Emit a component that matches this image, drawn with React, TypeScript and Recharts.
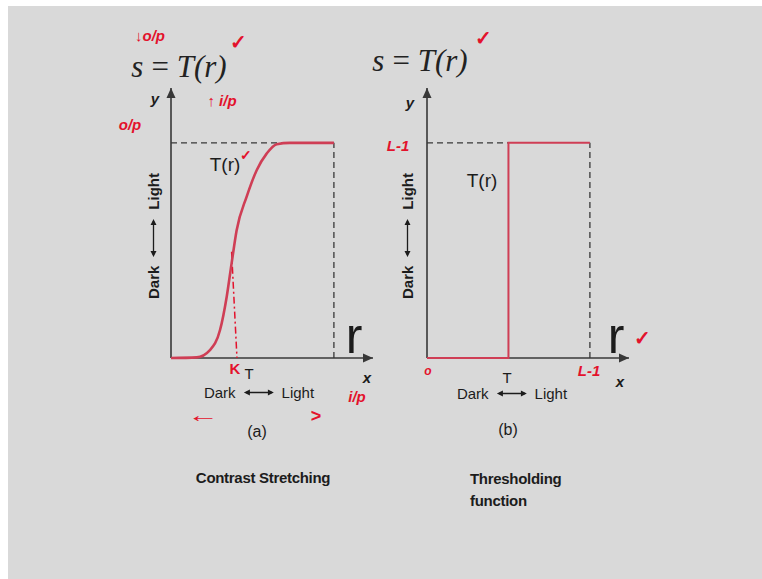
import type { CSSProperties, ReactNode } from 'react'
import { Line, LineChart, ReferenceDot, ReferenceLine, XAxis, YAxis } from 'recharts'

// r and s are normalised so that L-1 = 1; axes run a bit past it to the arrow tips
const X_MAX = 1.24
const Y_MAX = 1.255

// (a) contrast stretching curve T(r)
const stretchR = [0, 0.158, 0.239, 0.301, 0.342, 0.372, 0.403, 0.464, 0.526, 0.587, 0.649, 0.73, 1]
const stretchS = [0, 0.003, 0.037, 0.13, 0.285, 0.44, 0.594, 0.749, 0.873, 0.95, 0.994, 1, 1]

// (b) thresholding at r = T
const threshR = [0, 0.5, 0.5, 1]
const threshS = [0, 0, 1, 1]

// hand-drawn drop line from the curve to k on the r axis
const kLine = [
  { x: 0.372, y: 0.494 },
  { x: 0.405, y: 0 },
]

const stretchData = stretchR.map((r, i) => ({ r, s: stretchS[i] }))
const threshData = threshR.map((r, i) => ({ r, s: threshS[i] }))

const INK = '#1c1c1c'
const AXIS = '#383838'
const CURVE = '#cf3e55'
const PEN = '#e3122c'
const SANS = '"Liberation Sans", Arial, sans-serif'
const SERIF = '"Liberation Serif", "Times New Roman", serif'

const arrowRight = (p: any) => (
  <path d={`M${p.cx},${p.cy} L${p.cx - 10},${p.cy - 4.5} L${p.cx - 10},${p.cy + 4.5} Z`} fill={AXIS} />
)
const arrowUp = (p: any) => (
  <path d={`M${p.cx},${p.cy} L${p.cx - 4.5},${p.cy + 10} L${p.cx + 4.5},${p.cy + 10} Z`} fill={AXIS} />
)

function Txt({ x, y, children, style }: { x: number; y: number; children: ReactNode; style?: CSSProperties }) {
  return (
    <div
      style={{
        position: 'absolute',
        left: x,
        top: y,
        transform: 'translate(-50%, -50%)',
        whiteSpace: 'nowrap',
        fontFamily: SANS,
        color: INK,
        lineHeight: 1,
        ...style,
      }}
    >
      {children}
    </div>
  )
}

function DarkLight({ x, y, size, arrow, gap, bold, vertical }: {
  x: number; y: number; size: number; arrow: number; gap: number; bold?: boolean; vertical?: boolean
}) {
  return (
    <div
      style={{
        position: 'absolute',
        left: x,
        top: y,
        transform: `translate(-50%, -50%)${vertical ? ' rotate(-90deg)' : ''}`,
        display: 'flex',
        alignItems: 'center',
        gap,
        whiteSpace: 'nowrap',
        fontFamily: SANS,
        fontSize: size,
        fontWeight: bold ? 700 : 400,
        color: INK,
        lineHeight: 1,
      }}
    >
      <span>Dark</span>
      <svg width={arrow} height={8}>
        <line x1={2} y1={4} x2={arrow - 2} y2={4} stroke={INK} strokeWidth={1.3} />
        <path d={`M0,4 L6,1 L6,7 Z M${arrow},4 L${arrow - 6},1 L${arrow - 6},7 Z`} fill={INK} />
      </svg>
      <span>Light</span>
    </div>
  )
}

const chartMargin = { top: 8, right: 17, bottom: 22, left: 41 }

// x/y axes with arrow heads, shared by both panels
function axisMarks() {
  return [
    <XAxis key="xa" type="number" dataKey="r" domain={[0, X_MAX]} hide />,
    <YAxis key="ya" type="number" domain={[0, Y_MAX]} hide />,
    <ReferenceLine key="xl" segment={[{ x: 0, y: 0 }, { x: X_MAX, y: 0 }]} stroke={AXIS} strokeWidth={1.6} />,
    <ReferenceLine key="yl" segment={[{ x: 0, y: 0 }, { x: 0, y: Y_MAX }]} stroke={AXIS} strokeWidth={1.6} />,
    <ReferenceDot key="xh" x={X_MAX} y={0} r={0} shape={arrowRight} />,
    <ReferenceDot key="yh" x={0} y={Y_MAX} r={0} shape={arrowUp} />,
  ]
}

function StretchPanel() {
  return (
    <div style={{ position: 'absolute', left: 130, top: 80 }}>
      <LineChart width={260} height={300} data={stretchData} margin={chartMargin}>
        {axisMarks()}
        <ReferenceLine segment={[{ x: 0, y: 1 }, { x: 1, y: 1 }]} stroke={AXIS} strokeDasharray="6 4" strokeWidth={1.3} />
        <ReferenceLine segment={[{ x: 1, y: 0 }, { x: 1, y: 1 }]} stroke={AXIS} strokeDasharray="6 4" strokeWidth={1.3} />
        <ReferenceLine segment={kLine} stroke={PEN} strokeDasharray="7 3 2 3" strokeWidth={1.5} />
        <Line type="monotone" dataKey="s" stroke={CURVE} strokeWidth={2.6} dot={false} isAnimationActive={false} />
      </LineChart>
    </div>
  )
}

function ThresholdPanel() {
  return (
    <div style={{ position: 'absolute', left: 386, top: 80 }}>
      <LineChart width={260} height={300} data={threshData} margin={chartMargin}>
        {axisMarks()}
        <ReferenceLine segment={[{ x: 0, y: 1 }, { x: 0.5, y: 1 }]} stroke={AXIS} strokeDasharray="6 4" strokeWidth={1.3} />
        <ReferenceLine segment={[{ x: 1, y: 0 }, { x: 1, y: 1 }]} stroke={AXIS} strokeDasharray="6 4" strokeWidth={1.3} />
        <Line type="linear" dataKey="s" stroke={CURVE} strokeWidth={2} dot={false} isAnimationActive={false} />
      </LineChart>
    </div>
  )
}

const formula: CSSProperties = { fontFamily: SERIF, fontStyle: 'italic', fontSize: 31, color: '#222' }
const axisName: CSSProperties = { fontStyle: 'italic', fontWeight: 700, fontSize: 15 }
const bigR: CSSProperties = { fontSize: 50 }
const pen: CSSProperties = { color: PEN, fontStyle: 'italic', fontWeight: 700, fontSize: 15 }
const tick: CSSProperties = { color: PEN, fontSize: 20, fontWeight: 700 }

export default function App() {
  return (
    <div style={{ position: 'absolute', left: 0, top: 0, width: 762, height: 579, background: '#fff', overflow: 'hidden' }}>
      <div style={{ position: 'absolute', left: 8, top: 6, right: 0, bottom: 0, background: '#d9d9d9' }} />
      <StretchPanel />
      <ThresholdPanel />

      {/* panel (a) */}
      <Txt x={179} y={66} style={formula}>s&#8201;=&#8201;T(r)</Txt>
      <Txt x={155} y={98} style={axisName}>y</Txt>
      <Txt x={225} y={164} style={{ fontSize: 19 }}>T(r)</Txt>
      <Txt x={249} y={373} style={{ fontSize: 15 }}>T</Txt>
      <Txt x={367} y={377} style={axisName}>x</Txt>
      <Txt x={354} y={336} style={bigR}>r</Txt>
      <DarkLight x={259} y={392} size={15} arrow={30} gap={8} />
      <DarkLight x={153} y={236} size={15} arrow={38} gap={9} bold vertical />
      <Txt x={257} y={432} style={{ fontSize: 16 }}>(a)</Txt>
      <Txt x={263} y={477} style={{ fontSize: 15, fontWeight: 700, letterSpacing: -0.3 }}>Contrast Stretching</Txt>

      {/* handwritten notes on (a) */}
      <Txt x={150} y={35} style={pen}>↓o/p</Txt>
      <Txt x={238} y={42} style={tick}>✓</Txt>
      <Txt x={222} y={100} style={pen}>↑ i/p</Txt>
      <Txt x={130} y={124} style={pen}>o/p</Txt>
      <Txt x={246} y={155} style={{ ...tick, fontSize: 14 }}>✓</Txt>
      <Txt x={235} y={368} style={{ ...pen, fontStyle: 'normal' }}>K</Txt>
      <Txt x={357} y={396} style={pen}>i/p</Txt>
      <Txt x={203} y={415} style={{ ...pen, fontSize: 20, fontWeight: 400, fontStyle: 'normal', transform: 'translate(-50%, -50%) scaleX(1.6)' }}>←</Txt>
      <Txt x={316} y={416} style={{ ...pen, fontSize: 18, fontStyle: 'normal' }}>&gt;</Txt>

      {/* panel (b) */}
      <Txt x={420} y={60} style={formula}>s&#8201;=&#8201;T(r)</Txt>
      <Txt x={410} y={102} style={axisName}>y</Txt>
      <Txt x={482} y={180} style={{ fontSize: 19 }}>T(r)</Txt>
      <Txt x={507} y={377} style={{ fontSize: 15 }}>T</Txt>
      <Txt x={620} y={381} style={axisName}>x</Txt>
      <Txt x={616} y={336} style={bigR}>r</Txt>
      <DarkLight x={512} y={393} size={15} arrow={30} gap={8} />
      <DarkLight x={407} y={236} size={15} arrow={38} gap={9} bold vertical />
      <Txt x={508} y={430} style={{ fontSize: 16 }}>(b)</Txt>
      <div style={{ position: 'absolute', left: 470, top: 468, fontFamily: SANS, fontSize: 15, fontWeight: 700, color: INK, lineHeight: '22px', letterSpacing: -0.3 }}>
        Thresholding<br />function
      </div>

      {/* handwritten notes on (b) */}
      <Txt x={483} y={38} style={tick}>✓</Txt>
      <Txt x={398} y={145} style={pen}>L-1</Txt>
      <Txt x={428} y={371} style={{ ...pen, fontSize: 12 }}>o</Txt>
      <Txt x={589} y={370} style={pen}>L-1</Txt>
      <Txt x={642} y={338} style={tick}>✓</Txt>
    </div>
  )
}
